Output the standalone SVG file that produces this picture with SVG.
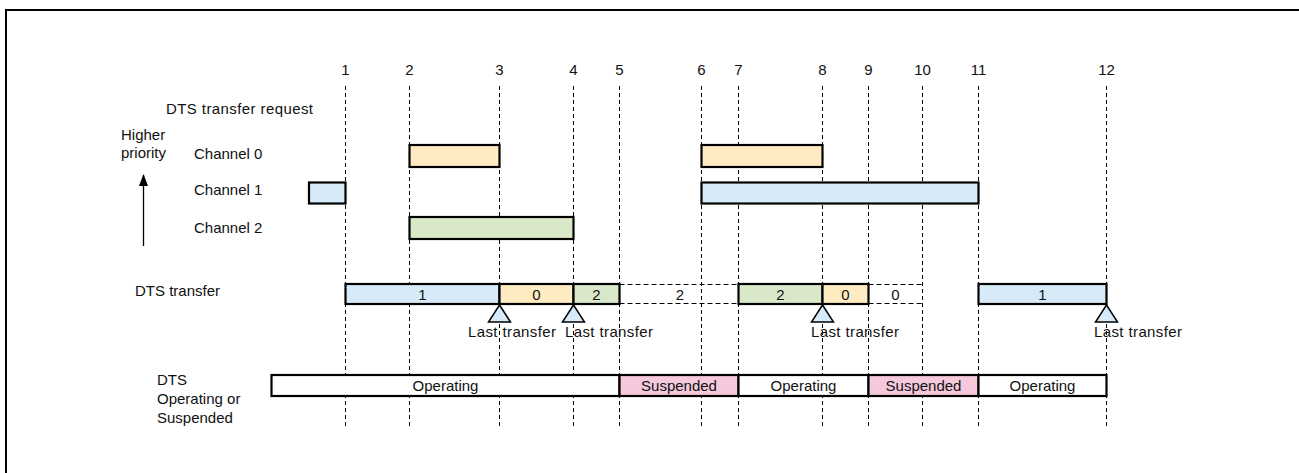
<svg xmlns="http://www.w3.org/2000/svg" width="1299" height="473" viewBox="0 0 1299 473">
<style>
text{font-family:"Liberation Sans",Arial,sans-serif;font-size:15px;fill:#111}
.c{text-anchor:middle}
.grid{stroke:#000;stroke-width:1;stroke-dasharray:4 3;fill:none}
.bar{stroke:#000;stroke-width:2.2}
.blue{fill:#d6eaf8}
.yel{fill:#ffebc2}
.grn{fill:#d9e8c8}
.pink{fill:#f5c8dc}
.wht{fill:#fff}
.dbox{stroke:#000;stroke-width:1;stroke-dasharray:5 3;fill:none}
.tri{fill:#d6eaf8;stroke:#000;stroke-width:1.5}
</style>
<defs>
<marker id="ah" markerWidth="12" markerHeight="12" refX="11" refY="5" orient="auto" markerUnits="userSpaceOnUse" viewBox="0 0 12 10">
<path d="M0,0.5 L12,5 L0,9.5 Z" fill="#000"/>
</marker>
</defs>
<rect x="0" y="0" width="1299" height="473" fill="#fff"/>
<rect x="6" y="10" width="1400" height="600" fill="none" stroke="#000" stroke-width="2"/>

<g id="connectors">
<g id="gridlines">
<line class="grid" x1="345.5" y1="86" x2="345.5" y2="428"/>
<line class="grid" x1="409.5" y1="86" x2="409.5" y2="428"/>
<line class="grid" x1="499.5" y1="86" x2="499.5" y2="428"/>
<line class="grid" x1="573.5" y1="86" x2="573.5" y2="428"/>
<line class="grid" x1="619.5" y1="86" x2="619.5" y2="428"/>
<line class="grid" x1="701.5" y1="86" x2="701.5" y2="428"/>
<line class="grid" x1="738.5" y1="86" x2="738.5" y2="428"/>
<line class="grid" x1="822.5" y1="86" x2="822.5" y2="428"/>
<line class="grid" x1="868.5" y1="86" x2="868.5" y2="428"/>
<line class="grid" x1="922.5" y1="86" x2="922.5" y2="428"/>
<line class="grid" x1="978.5" y1="86" x2="978.5" y2="428"/>
<line class="grid" x1="1106.5" y1="86" x2="1106.5" y2="428"/>
</g>
<line id="priority-arrow" x1="143.5" y1="246" x2="143.5" y2="175" stroke="#000" stroke-width="1.3" marker-end="url(#ah)"/>
</g>

<g id="numbers">
<text class="c" x="345.5" y="75">1</text>
<text class="c" x="409.5" y="75">2</text>
<text class="c" x="499.5" y="75">3</text>
<text class="c" x="573.5" y="75">4</text>
<text class="c" x="619.5" y="75">5</text>
<text class="c" x="701.5" y="75">6</text>
<text class="c" x="738.5" y="75">7</text>
<text class="c" x="822.5" y="75">8</text>
<text class="c" x="868.5" y="75">9</text>
<text class="c" x="922.5" y="75">10</text>
<text class="c" x="978.5" y="75">11</text>
<text class="c" x="1106.5" y="75">12</text>
</g>

<g id="labels">
<text x="166" y="114" textLength="147">DTS transfer request</text>
<text x="121" y="140">Higher</text>
<text x="121" y="158">priority</text>
<text x="194" y="158.5">Channel 0</text>
<text x="194" y="195">Channel 1</text>
<text x="194" y="232.5">Channel 2</text>
<text x="135" y="296">DTS transfer</text>
<text x="157" y="384.5">DTS</text>
<text x="157" y="403.5">Operating or</text>
<text x="157" y="422.5">Suspended</text>
</g>

<g id="channel0">
<rect class="bar yel" x="409.5" y="145" width="90" height="22"/>
<rect class="bar yel" x="701.5" y="145" width="121" height="22"/>
</g>
<g id="channel1">
<rect class="bar blue" x="309" y="182.5" width="36.5" height="21"/>
<rect class="bar blue" x="701.5" y="182.5" width="277" height="21"/>
</g>
<g id="channel2">
<rect class="bar grn" x="409.5" y="217" width="164" height="22"/>
</g>

<g id="transfer">
<line class="dbox" x1="619.5" y1="284.5" x2="738.5" y2="284.5"/>
<line class="dbox" x1="619.5" y1="303.5" x2="738.5" y2="303.5"/>
<line class="dbox" x1="868.5" y1="284.5" x2="922.5" y2="284.5"/>
<line class="dbox" x1="868.5" y1="303.5" x2="922.5" y2="303.5"/>
<rect class="bar blue" x="345.5" y="284" width="154" height="20"/>
<rect class="bar yel" x="499.5" y="284" width="74" height="20"/>
<rect class="bar grn" x="573.5" y="284" width="46" height="20"/>
<rect class="bar grn" x="738.5" y="284" width="84" height="20"/>
<rect class="bar yel" x="822.5" y="284" width="46" height="20"/>
<rect class="bar blue" x="978.5" y="284" width="128" height="20"/>
<text class="c" x="422.5" y="299.5">1</text>
<text class="c" x="536.5" y="299.5">0</text>
<text class="c" x="596.5" y="299.5">2</text>
<text class="c" x="680" y="299.5">2</text>
<text class="c" x="780.5" y="299.5">2</text>
<text class="c" x="845.5" y="299.5">0</text>
<text class="c" x="895.5" y="299.5">0</text>
<text class="c" x="1042.5" y="299.5">1</text>
</g>

<g id="last-transfer">
<polygon class="tri" points="499.5,305 488.5,322 510.5,322"/>
<polygon class="tri" points="573.5,305 562.5,322 584.5,322"/>
<polygon class="tri" points="822.5,305 811.5,322 833.5,322"/>
<polygon class="tri" points="1106.5,305 1095.5,322 1117.5,322"/>
<text x="468" y="336.5" textLength="88">Last transfer</text>
<text x="565" y="336.5" textLength="88">Last transfer</text>
<text x="811" y="336.5" textLength="88">Last transfer</text>
<text x="1094" y="336.5" textLength="88">Last transfer</text>
</g>

<g id="state">
<rect class="bar wht" x="271.5" y="375" width="348" height="21"/>
<rect class="bar pink" x="619.5" y="375" width="119" height="21"/>
<rect class="bar wht" x="738.5" y="375" width="130" height="21"/>
<rect class="bar pink" x="868.5" y="375" width="110" height="21"/>
<rect class="bar wht" x="978.5" y="375" width="128" height="21"/>
<text class="c" x="445.5" y="391">Operating</text>
<text class="c" x="679" y="391">Suspended</text>
<text class="c" x="803.5" y="391">Operating</text>
<text class="c" x="923.5" y="391">Suspended</text>
<text class="c" x="1042.5" y="391">Operating</text>
</g>
</svg>
